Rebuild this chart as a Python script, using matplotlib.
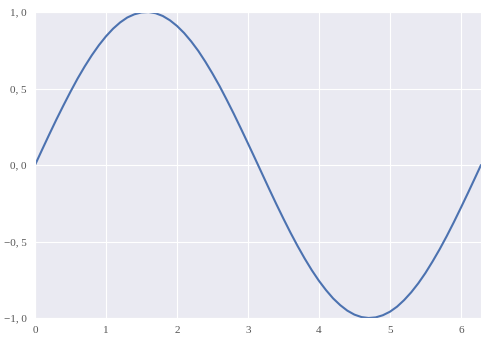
import matplotlib
matplotlib.use('Agg')
import matplotlib.pyplot as plt
import seaborn as sns
from matplotlib.ticker import FuncFormatter

# curve values
x_vals = [0.0, 0.1, 0.2, 0.3, 0.4, 0.5, 0.6, 0.7, 0.8, 0.9,
          1.0, 1.1, 1.2, 1.3, 1.4, 1.5, 1.6, 1.7, 1.8, 1.9,
          2.0, 2.1, 2.2, 2.3, 2.4, 2.5, 2.6, 2.7, 2.8, 2.9,
          3.0, 3.1, 3.2, 3.3, 3.4, 3.5, 3.6, 3.7, 3.8, 3.9,
          4.0, 4.1, 4.2, 4.3, 4.4, 4.5, 4.6, 4.7, 4.8, 4.9,
          5.0, 5.1, 5.2, 5.3, 5.4, 5.5, 5.6, 5.7, 5.8, 5.9,
          6.0, 6.1, 6.2, 6.283]
y_vals = [0.000, 0.100, 0.199, 0.296, 0.389, 0.479, 0.565, 0.644, 0.717, 0.783,
          0.841, 0.891, 0.932, 0.964, 0.985, 0.997, 1.000, 0.992, 0.974, 0.946,
          0.909, 0.863, 0.808, 0.746, 0.675, 0.598, 0.516, 0.427, 0.335, 0.239,
          0.141, 0.042, -0.058, -0.158, -0.256, -0.351, -0.443, -0.530, -0.612, -0.688,
          -0.757, -0.818, -0.872, -0.916, -0.952, -0.978, -0.994, -1.000, -0.996, -0.982,
          -0.959, -0.926, -0.883, -0.832, -0.773, -0.706, -0.631, -0.551, -0.465, -0.374,
          -0.279, -0.182, -0.083, 0.000]

y_ticks = [-1.0, -0.5, 0.0, 0.5, 1.0]
x_ticks = [0, 1, 2, 3, 4, 5, 6]

sns.set_style('darkgrid')
plt.rcParams['font.family'] = ['Liberation Serif', 'DejaVu Serif']

fig = plt.figure(figsize=(4.87, 3.43), dpi=100)
ax = fig.add_axes([35 / 487, 25 / 343, 446 / 487, 306 / 343])
ax.plot(x_vals, y_vals, color='#4C72B0', linewidth=1.5)
ax.set_xlim(0, 6.283)
ax.set_ylim(-1, 1)
ax.set_xticks(x_ticks)
ax.set_yticks(y_ticks)
ax.yaxis.set_major_formatter(FuncFormatter(
    lambda v, p: ('%.1f' % v).replace('.', ', ').replace('-', '\u2212')))
ax.tick_params(labelsize=8, colors='#555555', length=0, pad=6)

fig.savefig('out.png', dpi=100)
